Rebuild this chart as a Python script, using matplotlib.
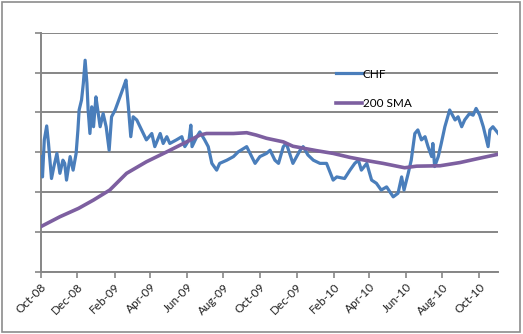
import numpy as np
import matplotlib
matplotlib.use("Agg")
import matplotlib.pyplot as plt
import matplotlib.dates as mdates
from matplotlib.patches import Rectangle

# days since 1 Oct 2008, values in gridline units (axis has no labels)
chf_days = [0, 3, 6, 10, 13, 18, 22, 27, 32, 37, 40, 43, 49, 54, 59, 62, 64, 68, 71, 74,
            77, 79, 82, 85, 88, 92, 95, 99, 104, 109, 114, 118, 124, 132, 138, 142, 146, 150,
            154, 160, 168, 176, 185, 190, 199, 204, 210, 215, 226, 235, 240, 247, 250, 252,
            260, 265, 273, 279, 285, 293, 298, 310, 321, 329, 343, 357, 365, 376, 382, 390,
            396, 404, 409, 420, 432, 437, 445, 454, 465, 476, 487, 493, 506, 515, 523, 529,
            534, 543, 551, 559, 567, 576, 587, 595, 601, 605, 612, 617, 623, 628, 634, 640,
            645, 651, 653, 656, 662, 667, 673, 681, 690, 695, 701, 706, 714, 720, 725, 731,
            737, 745, 748, 753, 762]
chf = [2.89, 2.38, 3.31, 3.66, 3.22, 2.34, 2.64, 2.97, 2.47, 2.80, 2.72, 2.30, 2.89, 2.55,
       2.97, 3.56, 4.06, 4.31, 4.73, 5.31, 4.73, 4.06, 3.47, 4.14, 3.64, 4.39, 4.06, 3.64,
       3.97, 3.64, 3.05, 3.89, 4.06, 4.39, 4.64, 4.81, 4.14, 3.39, 3.89, 3.81, 3.56, 3.31,
       3.47, 3.14, 3.47, 3.22, 3.39, 3.22, 3.31, 3.39, 3.14, 3.31, 3.68, 3.14, 3.39, 3.51,
       3.31, 3.14, 2.72, 2.55, 2.72, 2.80, 2.89, 3.01, 3.14, 2.72, 2.89, 2.97, 3.05, 2.80,
       2.72, 3.14, 3.22, 2.72, 3.05, 3.14, 2.93, 2.80, 2.72, 2.72, 2.30, 2.38, 2.34, 2.55,
       2.72, 2.80, 2.55, 2.72, 2.30, 2.22, 2.05, 2.13, 1.88, 1.97, 2.38, 2.05, 2.47, 2.80,
       3.47, 3.56, 3.31, 3.39, 3.14, 2.89, 3.22, 2.64, 2.89, 3.22, 3.64, 4.06, 3.81, 3.89,
       3.64, 3.81, 3.97, 3.93, 4.10, 3.93, 3.64, 3.14, 3.56, 3.64, 3.47]

sma_days = [0, 32, 63, 88, 115, 143, 176, 210, 243, 265, 276, 321, 343, 359, 376, 404,
            420, 459, 487, 515, 543, 570, 606, 626, 665, 698, 731, 762]
sma = [1.13, 1.38, 1.59, 1.80, 2.05, 2.47, 2.76, 3.01, 3.26, 3.43, 3.47, 3.47, 3.49, 3.43,
       3.35, 3.26, 3.15, 3.04, 2.97, 2.87, 2.79, 2.72, 2.61, 2.65, 2.66, 2.74, 2.85, 2.95]

tick_labels = ['Oct-08', 'Dec-08', 'Feb-09', 'Apr-09', 'Jun-09', 'Aug-09', 'Oct-09',
               'Dec-09', 'Feb-10', 'Apr-10', 'Jun-10', 'Aug-10', 'Oct-10']
tick_dates = ['2008-10-01', '2008-12-01', '2009-02-01', '2009-04-01', '2009-06-01',
              '2009-08-01', '2009-10-01', '2009-12-01', '2010-02-01', '2010-04-01',
              '2010-06-01', '2010-08-01', '2010-10-01']

start = np.datetime64('2008-10-01')
chf_x = start + np.array(chf_days).astype('timedelta64[D]')
sma_x = start + np.array(sma_days).astype('timedelta64[D]')

plt.rcParams['font.family'] = ['Lato', 'DejaVu Sans']
grey = '#868686'

fig = plt.figure(figsize=(5.23, 3.34), dpi=100)
fig.patches.append(Rectangle((0.004, 0.006), 0.991, 0.988, transform=fig.transFigure,
                             fill=False, edgecolor='#8c8c8c', linewidth=1.2))
ax = fig.add_axes([0.0778, 0.1865, 0.875, 0.7155])

ax.plot(chf_x, chf, color='#4a7ebb', linewidth=2.3, label='CHF', zorder=3)
ax.plot(sma_x, sma, color='#7d5fa0', linewidth=2.6, label='200 SMA', zorder=4)

ax.set_ylim(0, 6)
ax.set_xlim(start, start + np.timedelta64(762, 'D'))
ax.set_yticks(range(0, 7))
ax.set_yticklabels([])
ax.yaxis.grid(True, color=grey, linewidth=1.4)
ax.set_axisbelow(True)

ax.set_xticks(mdates.datestr2num(tick_dates))
ax.set_xticklabels(tick_labels, rotation=45, ha='right', va='top',
                   rotation_mode='anchor', fontsize=8.5, color='#222222')

for s in ['top', 'right']:
    ax.spines[s].set_visible(False)
for s in ['left', 'bottom']:
    ax.spines[s].set_color(grey)
    ax.spines[s].set_linewidth(1.4)
ax.tick_params(axis='both', color=grey, width=1.2, length=4)
ax.tick_params(axis='x', pad=3)

ax.legend(loc='upper left', bbox_to_anchor=(0.632, 0.875), frameon=False,
          fontsize=8.5, handlelength=2.2, handletextpad=0.1, labelspacing=1.6,
          borderpad=0)

fig.savefig('out.png', dpi=100)
